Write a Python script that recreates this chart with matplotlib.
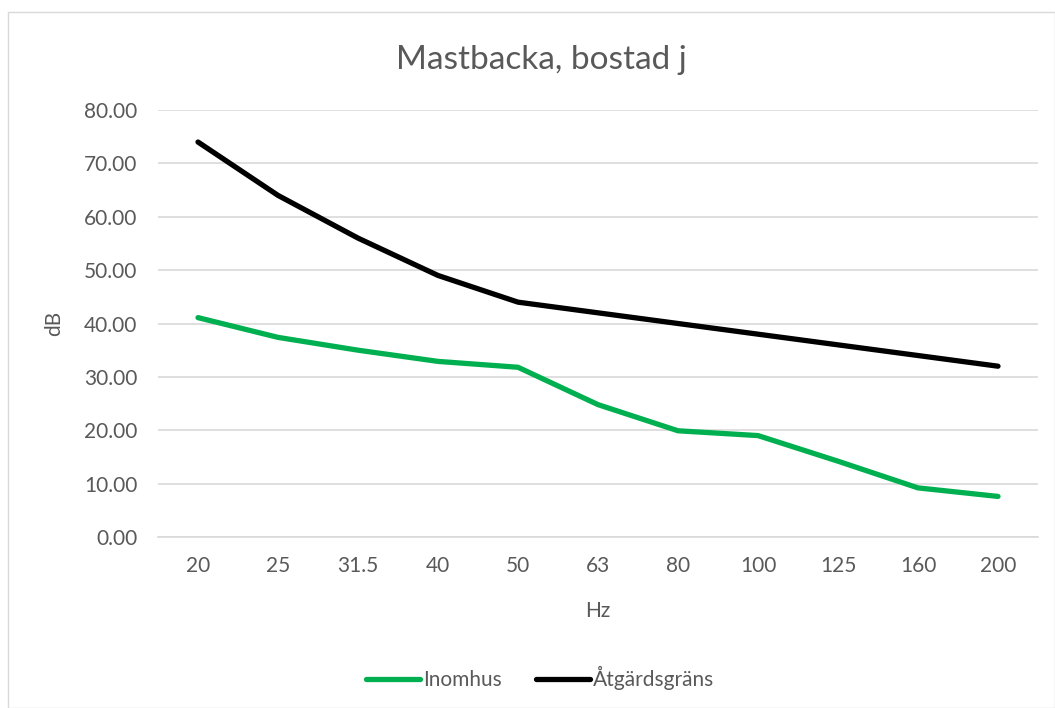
import matplotlib.pyplot as plt
from matplotlib.patches import Rectangle
import numpy as np

plt.rcParams['font.family'] = ['Lato', 'DejaVu Sans']

# frekvensband (Hz) och nivåer (dB)
hz = ['20', '25', '31.5', '40', '50', '63', '80', '100', '125', '160', '200']
inomhus = [41.1, 37.4, 35.0, 32.9, 31.8, 24.8, 19.9, 19.0, 14.2, 9.2, 7.6]
atgardsgrans = [74, 64, 56, 49, 44, 42, 40, 38, 36, 34, 32]

grey = '#595959'

fig = plt.figure(figsize=(10.55, 7.08), dpi=100)
# ram runt diagrammet
fig.patches.append(Rectangle((8 / 1055, 0), 1 - 8 / 1055, 1 - 12 / 708,
                             transform=fig.transFigure, fill=False,
                             edgecolor='#d9d9d9', linewidth=1))

ax = fig.add_axes([158 / 1055, 1 - 537 / 708, 880 / 1055, 427 / 708])
x = np.arange(len(hz))
ax.plot(x, inomhus, color='#00B050', linewidth=3.8, solid_capstyle='round',
        solid_joinstyle='round', label='Inomhus')
ax.plot(x, atgardsgrans, color='black', linewidth=3.8, solid_capstyle='round',
        solid_joinstyle='round', label='Åtgärdsgräns')

ax.set_xlim(-0.5, len(hz) - 0.5)
ax.set_ylim(0, 80)
ax.set_yticks(np.arange(0, 81, 10))
ax.set_yticklabels(['%.2f' % v for v in np.arange(0, 81, 10)])
ax.set_xticks(x)
ax.set_xticklabels(hz)
ax.grid(axis='y', color='#d9d9d9', linewidth=1.2)
ax.set_axisbelow(True)
for s in ['top', 'right', 'left']:
    ax.spines[s].set_visible(False)
ax.spines['bottom'].set_color('#d9d9d9')
ax.spines['bottom'].set_linewidth(1.2)
ax.tick_params(length=0, colors=grey, labelsize=15)
ax.tick_params(axis='x', pad=14)
ax.tick_params(axis='y', pad=15)

ax.set_xlabel('Hz', color=grey, fontsize=15, labelpad=18)
ax.set_ylabel('dB', color=grey, fontsize=15, labelpad=14)
fig.text(0.513, 1 - 60 / 708, 'Mastbacka, bostad j', ha='center', va='center',
         color=grey, fontsize=24)

fig.legend(loc='center', bbox_to_anchor=(0.512, 1 - 678 / 708), ncol=2,
           frameon=False, fontsize=15, labelcolor=grey, handlelength=2.6,
           handletextpad=0.15, columnspacing=1.6)

fig.savefig('out.png', dpi=100)
